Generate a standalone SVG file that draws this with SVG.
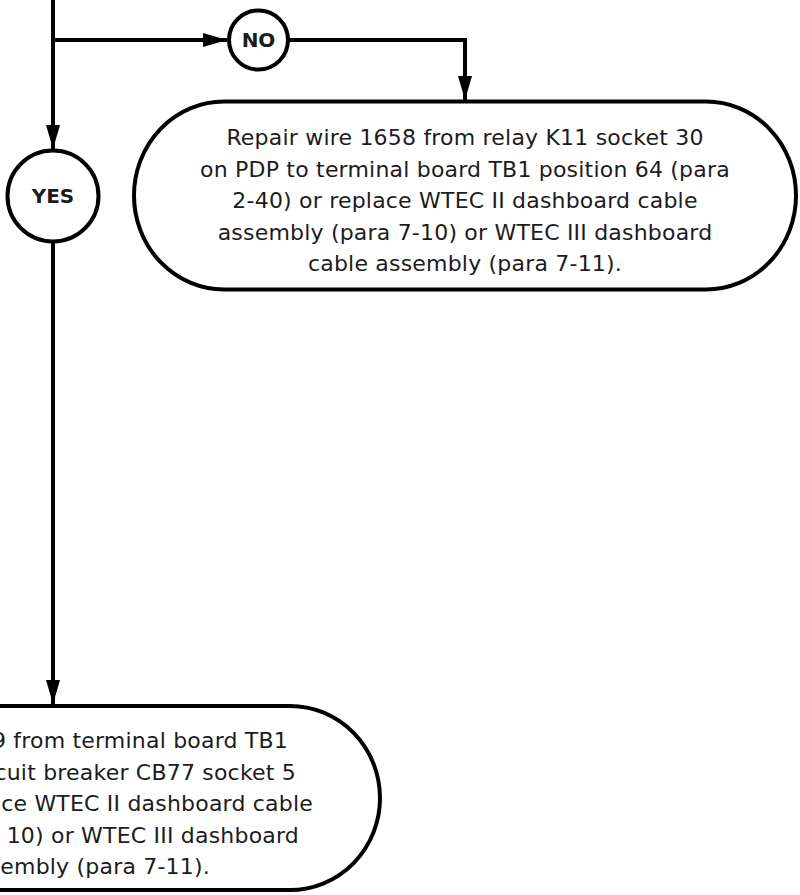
<svg xmlns="http://www.w3.org/2000/svg" width="800" height="895" viewBox="0 0 800 895">
<style>
.ln{fill:none;stroke:#000;stroke-width:4}
.nd{fill:#fff;stroke:#000;stroke-width:4}
.t{font-family:"DejaVu Sans",Verdana,sans-serif;font-size:22px;letter-spacing:0.2px;fill:#1c1c1c}
.c{text-anchor:middle}
.e{text-anchor:end}
.lb{font-family:"DejaVu Sans",Verdana,sans-serif;font-size:20px;font-weight:bold;fill:#1c1c1c;text-anchor:middle}
</style>
<defs>
<marker id="ah" markerUnits="userSpaceOnUse" markerWidth="24" markerHeight="14" refX="24" refY="7" orient="auto" viewBox="0 0 24 14">
<path d="M0,0 L24,7 L0,14 Z" fill="#000"/>
</marker>
</defs>
<g id="connectors">
<path class="ln" d="M53,0 V149" marker-end="url(#ah)"/>
<path class="ln" d="M53,40 H227" marker-end="url(#ah)"/>
<path class="ln" d="M288,40 H465 V100" marker-end="url(#ah)"/>
<path class="ln" d="M53,242 V704" marker-end="url(#ah)"/>
</g>
<g id="no">
<circle class="nd" cx="258.5" cy="40" r="29.5"/>
<text class="lb" x="258.5" y="47">NO</text>
</g>
<g id="yes">
<circle class="nd" cx="53" cy="196" r="45.5"/>
<text class="lb" x="53" y="203">YES</text>
</g>
<g id="repair-1658">
<path class="nd" d="M224,101.5 H706 A90,94 0 0 1 706,289.5 H224 A90,94 0 0 1 224,101.5 Z"/>
<text class="t c" x="465" y="145">Repair wire 1658 from relay K11 socket 30</text>
<text class="t c" x="465" y="176.5">on PDP to terminal board TB1 position 64 (para</text>
<text class="t c" x="465" y="208">2-40) or replace WTEC II dashboard cable</text>
<text class="t c" x="465" y="239.5">assembly (para 7-10) or WTEC III dashboard</text>
<text class="t c" x="465" y="271">cable assembly (para 7-11).</text>
</g>
<g id="repair-cb77">
<path class="nd" d="M-184,706 H290 A90,92 0 0 1 290,890 H-184 A90,92 0 0 1 -184,706 Z"/>
<text class="t e" x="288" y="748">9 from terminal board TB1</text>
<text class="t e" x="296" y="779.5">cuit breaker CB77 socket 5</text>
<text class="t e" x="313" y="811">ce WTEC II dashboard cable</text>
<text class="t e" x="299" y="842.5">10) or WTEC III dashboard</text>
<text class="t e" x="210" y="874">embly (para 7-11).</text>
</g>
</svg>
